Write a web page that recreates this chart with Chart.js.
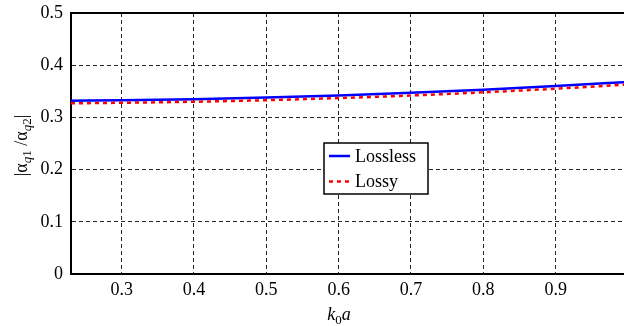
<!DOCTYPE html>
<html>
<head>
<meta charset="utf-8">
<script src="https://cdn.jsdelivr.net/npm/chart.js@4.4.1/dist/chart.umd.min.js"></script>
<style>
  html, body { margin: 0; padding: 0; background: #fff; overflow: hidden; }
  #wrap { width: 630px; height: 326px; }
</style>
</head>
<body>
<div id="wrap"><canvas id="chart" width="630" height="326"></canvas></div>
<script>
// values
const k0a      = [0.23, 0.3, 0.4, 0.5, 0.6, 0.7, 0.8, 0.9, 1.0];
const lossless = [0.332, 0.333, 0.335, 0.338, 0.342, 0.347, 0.353, 0.360, 0.368];
const lossy    = [0.327, 0.328, 0.330, 0.333, 0.337, 0.342, 0.348, 0.355, 0.363];
const xTicks   = [0.3, 0.4, 0.5, 0.6, 0.7, 0.8, 0.9, 1.0];
const yTicks   = [0, 0.1, 0.2, 0.3, 0.4, 0.5];
const seriesNames = ['Lossless', 'Lossy'];

const SERIF = '"Liberation Serif", "DejaVu Serif", serif';

const pts = (ys) => k0a.map((x, i) => ({ x: x, y: ys[i] }));

// draws top frame, inner legend and the math-style axis titles
const decor = {
    id: 'decor',
    afterDraw(chart) {
        const ctx = chart.ctx;
        const a = chart.chartArea;
        ctx.save();

        // top frame line
        ctx.strokeStyle = '#000';
        ctx.lineWidth = 2;
        ctx.beginPath();
        ctx.moveTo(a.left - 1, a.top);
        ctx.lineTo(a.right + 2, a.top);
        ctx.stroke();

        // legend box
        const bx = 324, by = 143, bw = 104, bh = 51;
        ctx.fillStyle = '#fff';
        ctx.fillRect(bx, by, bw, bh);
        ctx.lineWidth = 1.5;
        ctx.strokeRect(bx, by, bw, bh);
        chart.data.datasets.forEach((ds, i) => {
            const ly = by + 13 + i * 25.5;
            ctx.strokeStyle = ds.borderColor;
            ctx.lineWidth = ds.borderWidth;
            ctx.setLineDash(ds.borderDash || []);
            ctx.beginPath();
            ctx.moveTo(bx + 5, ly);
            ctx.lineTo(bx + 26, ly);
            ctx.stroke();
            ctx.setLineDash([]);
            ctx.fillStyle = '#000';
            ctx.font = '18px ' + SERIF;
            ctx.textBaseline = 'middle';
            ctx.textAlign = 'left';
            ctx.fillText(ds.label, bx + 31, ly + 1);
        });

        // helper: draw a run of pieces [text, style, size, dy]
        const run = (pieces, cx, cy) => {
            let w = 0;
            pieces.forEach(p => { ctx.font = p[1] + ' ' + p[2] + 'px ' + SERIF; w += ctx.measureText(p[0]).width; });
            let x = cx - w / 2;
            ctx.textBaseline = 'alphabetic';
            ctx.textAlign = 'left';
            pieces.forEach(p => {
                ctx.font = p[1] + ' ' + p[2] + 'px ' + SERIF;
                ctx.fillText(p[0], x, cy + p[3]);
                x += ctx.measureText(p[0]).width;
            });
        };

        ctx.fillStyle = '#000';
        // x title: k0a
        run([['k', 'italic', 18, 0], ['0', 'normal', 13, 4], ['a', 'italic', 18, 0]], 339, 320);

        // y title: |αq1/αq2|
        ctx.save();
        ctx.translate(27, (a.top + a.bottom) / 2 + 2);
        ctx.rotate(-Math.PI / 2);
        run([
            ['|α', 'normal', 18, 0], ['q', 'italic', 13, 4], ['1', 'normal', 13, 4],
            [' /α', 'normal', 18, 0], ['q', 'italic', 13, 4], ['2', 'normal', 13, 4],
            ['|', 'normal', 18, 0]
        ], 0, 0);
        ctx.restore();

        ctx.restore();
    }
};

new Chart(document.getElementById('chart'), {
    type: 'line',
    data: {
        datasets: [
            {
                label: seriesNames[0],
                data: pts(lossless),
                borderColor: '#0000ff',
                borderWidth: 2.5,
                pointRadius: 0,
                tension: 0.4,
                cubicInterpolationMode: 'monotone',
                order: 2
            },
            {
                label: seriesNames[1],
                data: pts(lossy),
                borderColor: '#ff0000',
                borderWidth: 2.5,
                borderDash: [4, 4],
                pointRadius: 0,
                tension: 0.4,
                cubicInterpolationMode: 'monotone',
                order: 1
            }
        ]
    },
    options: {
        responsive: false,
        animation: false,
        events: [],
        layout: { padding: { top: 13, right: 2, left: 0, bottom: 0 } },
        plugins: { legend: { display: false }, tooltip: { enabled: false } },
        scales: {
            x: {
                type: 'linear',
                min: 0.23,
                max: 1.0,
                afterBuildTicks: (s) => { s.ticks = xTicks.map(v => ({ value: v })); },
                afterFit: (s) => { s.height = 52; s.paddingLeft = 0; s.paddingRight = 0; },
                ticks: {
                    color: '#000',
                    font: { family: SERIF, size: 18 },
                    padding: 5,
                    callback: (v) => v === 1 ? '' : v.toFixed(1)
                },
                grid: { color: 'rgba(0,0,0,0.85)', lineWidth: 1, drawTicks: false },
                border: { display: true, color: '#000', width: 2, dash: [4, 3] }
            },
            y: {
                min: 0,
                max: 0.5,
                afterBuildTicks: (s) => { s.ticks = yTicks.map(v => ({ value: v })); },
                afterFit: (s) => { s.width = 71; s.paddingTop = 0; s.paddingBottom = 0; },
                ticks: {
                    color: '#000',
                    font: { family: SERIF, size: 18 },
                    padding: 8,
                    callback: (v) => v === 0 ? '0' : v.toFixed(1)
                },
                grid: { color: 'rgba(0,0,0,0.85)', lineWidth: 1, drawTicks: false },
                border: { display: true, color: '#000', width: 2, dash: [4, 3] }
            }
        }
    },
    plugins: [decor]
});
</script>
</body>
</html>
